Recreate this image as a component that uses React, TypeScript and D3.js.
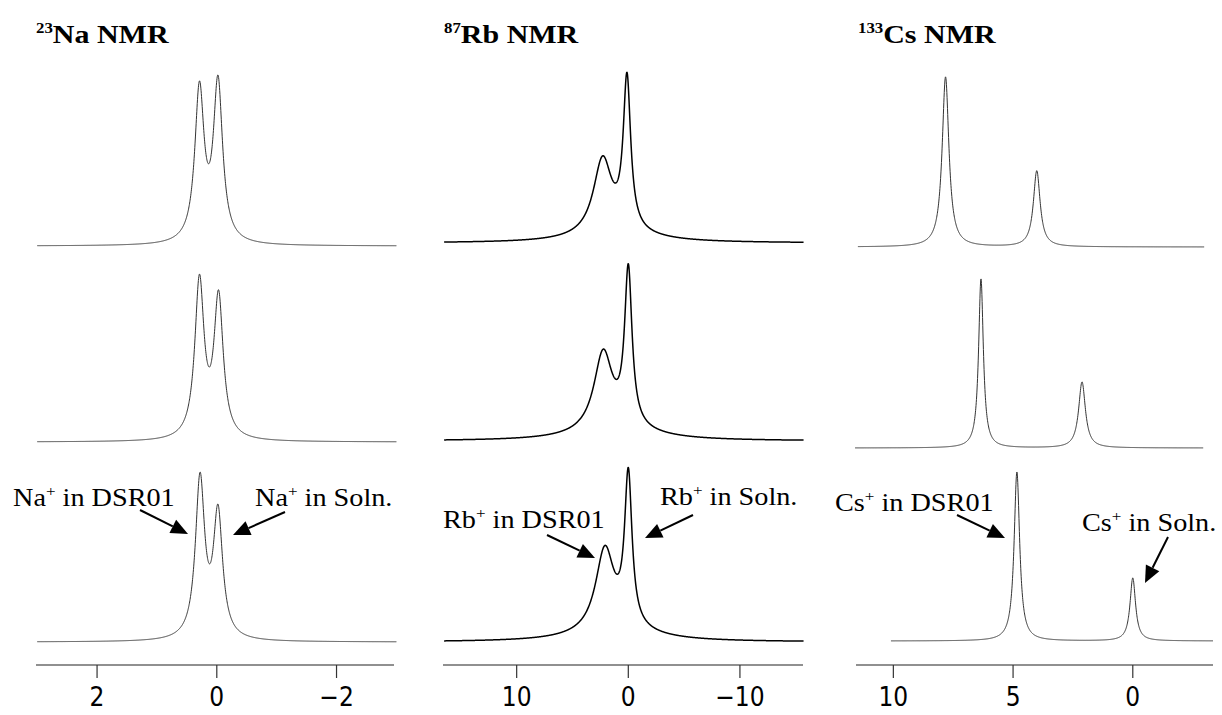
import React from "react";
import * as d3 from "d3";

const W = 1222;
const H = 715;

// ---------- data (ppm, relative intensity) ----------
// Panel titles
const panelIsotopes = ["23", "87", "133"];
const panelElements = ["Na", "Rb", "Cs"];

// Axis tick values (ppm)
const naTicks = [2, 0, -2];
const rbTicks = [10, 0, -10];
const csTicks = [10, 5, 0];

// Axis extents (ppm, left -> right)
const naExtent = [3.02, -2.96];
const rbExtent = [16.6, -15.65];
const csExtent = [11.56, -3.35];

// Lorentzian peak parameters per trace (top, middle, bottom)
const naShifts = [[0.29, -0.02], [0.29, -0.03], [0.28, -0.02]];
const naHeights = [[152, 158.5], [157, 140], [159, 124]];
const naWidths = [[0.093, 0.093], [0.093, 0.093], [0.093, 0.093]];
const naRanges = [[3.0, -3.0], [3.0, -3.0], [3.0, -3.0]];
const naOffsets = [396, 200, 0];

const rbShifts = [[0.12, 2.3, 1.0], [0.0, 2.25, 1.0], [0.0, 2.1, 1.0]];
const rbHeights = [[150, 75, 8], [155, 78, 10], [150, 82, 10]];
const rbWidths = [[0.4, 1.0, 4.0], [0.4, 1.0, 4.0], [0.4, 1.0, 4.0]];
const rbRanges = [[16.5, -15.7], [16.5, -15.7], [16.5, -15.7]];
const rbOffsets = [399, 201, 0];

const csShifts = [[7.82, 4.01], [6.34, 2.12], [4.84, 0.0]];
const csHeights = [[170, 76], [169, 66], [169, 63]];
const csWidths = [[0.17, 0.17], [0.12, 0.17], [0.14, 0.14]];
const csRanges = [[11.48, -2.98], [11.6, -2.94], [10.1, -3.35]];
const csOffsets = [395, 194, 1];

// Annotation labels
const annotationLabels = [
  ["Na", " in DSR01"], ["Na", " in Soln."],
  ["Rb", " in DSR01"], ["Rb", " in Soln."],
  ["Cs", " in DSR01"], ["Cs", " in Soln."],
];

// ---------- layout ----------
const panelPixelRanges = [[36, 394], [443, 803], [856, 1213]];
const titleX = [36, 444, 858];
const axisY = 665;
const tickLen = 13;
const labelY = 706;

const yScale = d3.scaleLinear().domain([0, 600]).range([642, 42]);

// annotation layout: text anchor (x, baseline y), arrow from -> to (pixels)
const annoLayout = [
  { tx: 13, ty: 506, x1: 140, y1: 510, x2: 188, y2: 534 },
  { tx: 255, ty: 506, x1: 285, y1: 512, x2: 233, y2: 535 },
  { tx: 443, ty: 528, x1: 547, y1: 535, x2: 595, y2: 558 },
  { tx: 660, ty: 505, x1: 693, y1: 515, x2: 645, y2: 538 },
  { tx: 835, ty: 511, x1: 957, y1: 515, x2: 1005, y2: 538 },
  { tx: 1082, ty: 531, x1: 1168, y1: 537, x2: 1145, y2: 583 },
];

function lorentz(ppm: number, shifts: number[], heights: number[], widths: number[]) {
  let s = 0;
  for (let i = 0; i < shifts.length; i++) {
    const u = (ppm - shifts[i]) / widths[i];
    s += heights[i] / (1 + u * u);
  }
  return s;
}

type Panel = {
  extent: number[];
  ticks: number[];
  shifts: number[][];
  heights: number[][];
  widths: number[][];
  ranges: number[][];
  offsets: number[];
  stroke: string;
  strokeWidth: number;
};

const panels: Panel[] = [
  { extent: naExtent, ticks: naTicks, shifts: naShifts, heights: naHeights, widths: naWidths, ranges: naRanges, offsets: naOffsets, stroke: "#333", strokeWidth: 1 },
  { extent: rbExtent, ticks: rbTicks, shifts: rbShifts, heights: rbHeights, widths: rbWidths, ranges: rbRanges, offsets: rbOffsets, stroke: "#000", strokeWidth: 1.5 },
  { extent: csExtent, ticks: csTicks, shifts: csShifts, heights: csHeights, widths: csWidths, ranges: csRanges, offsets: csOffsets, stroke: "#333", strokeWidth: 1 },
];

const serif = "'Liberation Serif', 'Times New Roman', Times, serif";
const narrow = "'Liberation Sans Narrow', 'DejaVu Sans Condensed', 'Arial Narrow', sans-serif";

function Arrow({ x1, y1, x2, y2 }: { x1: number; y1: number; x2: number; y2: number }) {
  const dx = x2 - x1;
  const dy = y2 - y1;
  const len = Math.hypot(dx, dy);
  const ux = dx / len;
  const uy = dy / len;
  const headLen = 17;
  const headHalf = 7.5;
  const bx = x2 - ux * headLen;
  const by = y2 - uy * headLen;
  const pts = [
    [x2, y2],
    [bx - uy * headHalf, by + ux * headHalf],
    [bx + uy * headHalf, by - ux * headHalf],
  ];
  return (
    <g>
      <line x1={x1} y1={y1} x2={bx} y2={by} stroke="#000" strokeWidth={2} />
      <polygon points={pts.map((p) => p.join(",")).join(" ")} fill="#000" />
    </g>
  );
}

export default function App() {
  return (
    <svg
      width={W}
      height={H}
      viewBox={`0 0 ${W} ${H}`}
      style={{ position: "absolute", left: 0, top: 0, background: "#fff" }}
    >
      <rect x={0} y={0} width={W} height={H} fill="#fff" />
      {panels.map((p, pi) => {
        const x = d3.scaleLinear().domain(p.extent).range(panelPixelRanges[pi]);
        const line = d3
          .line<[number, number]>()
          .x((d) => x(d[0]))
          .y((d) => yScale(d[1]));
        return (
          <g key={pi}>
            {/* title */}
            <text
              transform={`translate(${titleX[pi]},43) scale(1.2,1)`}
              fontFamily={serif}
              fontWeight="bold"
              fontSize={25}
              fill="#000"
            >
              <tspan fontSize={14} dy={-10}>{panelIsotopes[pi]}</tspan>
              <tspan dy={10}>{panelElements[pi] + " NMR"}</tspan>
            </text>
            {/* spectra */}
            {p.shifts.map((shifts, ti) => {
              const [a, b] = p.ranges[ti];
              const n = 1600;
              const pts: [number, number][] = d3.range(n + 1).map((k) => {
                const ppm = a + ((b - a) * k) / n;
                return [ppm, p.offsets[ti] + lorentz(ppm, shifts, p.heights[ti], p.widths[ti])];
              });
              return (
                <path
                  key={ti}
                  d={line(pts) || ""}
                  fill="none"
                  stroke={p.stroke}
                  strokeWidth={p.strokeWidth}
                  strokeLinejoin="round"
                />
              );
            })}
            {/* axis */}
            <line
              x1={panelPixelRanges[pi][0]}
              x2={panelPixelRanges[pi][1]}
              y1={axisY}
              y2={axisY}
              stroke="#222"
              strokeWidth={1.2}
            />
            {p.ticks.map((t) => (
              <g key={t}>
                <line x1={x(t)} x2={x(t)} y1={axisY} y2={axisY + tickLen} stroke="#333" strokeWidth={1.2} />
                <text
                  x={x(t)}
                  y={labelY}
                  textAnchor="middle"
                  fontFamily={narrow}
                  fontSize={26}
                  fill="#000"
                >
                  {t < 0 ? "\u2212" + Math.abs(t) : String(t)}
                </text>
              </g>
            ))}
          </g>
        );
      })}
      {/* annotations */}
      {annoLayout.map((a, i) => (
        <g key={i}>
          <text
            transform={`translate(${a.tx},${a.ty}) scale(1.13,1)`}
            fontFamily={serif}
            fontSize={25}
            fill="#000"
          >
            {annotationLabels[i][0]}
            <tspan fontSize={15} dy={-10}>+</tspan>
            <tspan dy={10}>{annotationLabels[i][1]}</tspan>
          </text>
          <Arrow x1={a.x1} y1={a.y1} x2={a.x2} y2={a.y2} />
        </g>
      ))}
    </svg>
  );
}
